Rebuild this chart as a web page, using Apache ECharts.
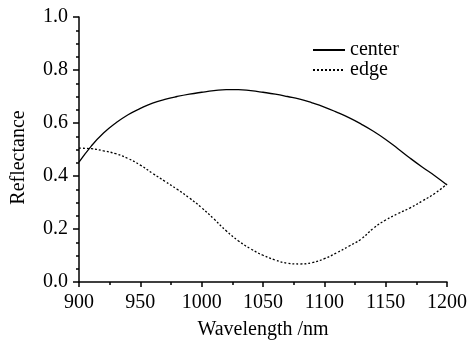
<!DOCTYPE html>
<html>
<head>
<meta charset="utf-8">
<script src="https://cdn.jsdelivr.net/npm/echarts@6/dist/echarts.min.js"></script>
<style>
	html,body{margin:0;padding:0;background:#fff;}
	#chart{width:470px;height:345px;}
</style>
</head>
<body>
<div id="chart"></div>
<script>
// wavelength (nm)
var wavelength = [900,910,920,930,940,950,960,970,980,990,1000,1010,1020,1030,1040,1050,
	1060,1070,1080,1090,1100,1110,1120,1130,1140,1150,1160,1170,1180,1190,1200];
// reflectance
var center = [0.452,0.513,0.562,0.600,0.631,0.655,0.675,0.689,0.700,0.709,0.716,0.722,0.726,0.726,0.722,0.716,
	0.709,0.700,0.690,0.676,0.660,0.641,0.620,0.596,0.569,0.538,0.503,0.467,0.433,0.401,0.366];
var edge = [0.505,0.503,0.495,0.484,0.466,0.441,0.410,0.380,0.350,0.317,0.280,0.238,0.193,0.155,0.125,0.101,
	0.083,0.071,0.068,0.073,0.088,0.110,0.135,0.162,0.203,0.234,0.258,0.280,0.306,0.334,0.370];

function pairs(xs, ys){
	var out = [];
	for(var i = 0; i < xs.length; i++){
		out.push([xs[i], ys[i]]);
	}
	return out;
}

var font = '"Liberation Serif", "Times New Roman", serif';
var myChart = echarts.init(document.getElementById('chart'));
var option = {
	animation:false,
	grid:{
		left:79,
		right:23,
		top:17,
		bottom:58
	},
	legend:{
		left:307,
		top:35,
		orient:'vertical',
		itemWidth:32,
		itemHeight:10,
		itemGap:0,
		itemStyle:{opacity:0},
		textStyle:{
			fontFamily:font,
			fontSize:20,
			color:'#000'
		},
		data:['center','edge']
	},
	xAxis:{
		type:'value',
		min:900,
		max:1200,
		interval:50,
		name:'Wavelength /nm',
		nameLocation:'middle',
		nameGap:38,
		nameTextStyle:{fontFamily:font,fontSize:20,color:'#000'},
		axisLine:{lineStyle:{color:'#000',width:1.5}},
		axisTick:{length:5,lineStyle:{color:'#000',width:1.5}},
		minorTick:{show:true,splitNumber:2,length:3,lineStyle:{color:'#000',width:1.5}},
		axisLabel:{
			fontFamily:font,fontSize:20,color:'#000',margin:11,
			formatter:function(v){ return String(v); }
		},
		splitLine:{show:false}
	},
	yAxis:{
		type:'value',
		min:0,
		max:1,
		interval:0.2,
		name:'Reflectance',
		nameLocation:'middle',
		nameGap:50,
		nameTextStyle:{fontFamily:font,fontSize:20,color:'#000',padding:[0,16,0,0]},
		axisLine:{show:true,lineStyle:{color:'#000',width:1.5}},
		axisTick:{show:true,length:6,lineStyle:{color:'#000',width:1.5}},
		minorTick:{show:true,splitNumber:4,length:3,lineStyle:{color:'#000',width:1.5}},
		axisLabel:{
			fontFamily:font,fontSize:20,color:'#000',margin:11,
			formatter:function(v){ return v.toFixed(1); }
		},
		splitLine:{show:false}
	},
	series:[
		{
			name:'center',
			type:'line',
			smooth:true,
			symbol:'none',
			itemStyle:{color:'#000'},
			lineStyle:{color:'#000',width:1.3},
			data:pairs(wavelength, center)
		},
		{
			name:'edge',
			type:'line',
			smooth:true,
			symbol:'none',
			itemStyle:{color:'#000'},
			lineStyle:{color:'#000',width:1.3,type:[2,2]},
			data:pairs(wavelength, edge)
		}
	]
};
myChart.setOption(option);
</script>
</body>
</html>
